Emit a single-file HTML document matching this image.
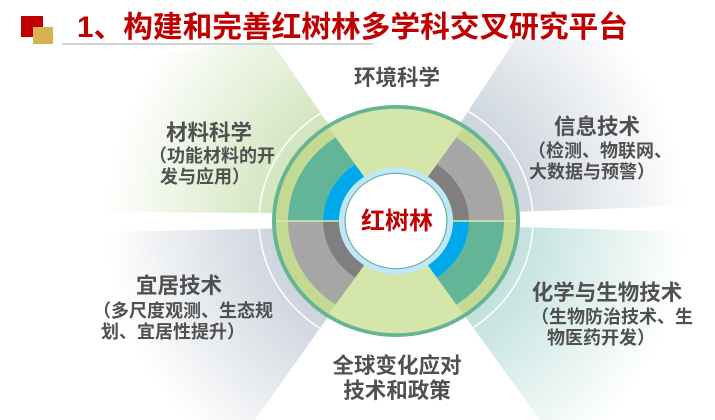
<!DOCTYPE html>
<html><head><meta charset="utf-8"><style>
html,body{margin:0;padding:0;width:715px;height:420px;overflow:hidden;background:#fff}
svg{display:block}
text{font-family:"Liberation Sans","Noto Sans CJK SC",sans-serif}
.t{fill:#505050;font-weight:bold;font-size:21.5px;text-anchor:middle}
.s{fill:#505050;font-weight:bold;font-size:18px;text-anchor:middle}
</style></head><body>
<svg width="715" height="420" viewBox="0 0 715 420">
<defs>
<radialGradient id="gg" cx="396" cy="221" r="290" gradientUnits="userSpaceOnUse">
<stop offset="0.3" stop-color="#c9e0b0"/><stop offset="1" stop-color="#c9e0b0" stop-opacity="0"/></radialGradient>
<radialGradient id="gb" cx="396" cy="221" r="290" gradientUnits="userSpaceOnUse">
<stop offset="0.3" stop-color="#c3ccd6"/><stop offset="1" stop-color="#c3ccd6" stop-opacity="0"/></radialGradient>
<radialGradient id="gt" cx="396" cy="221" r="290" gradientUnits="userSpaceOnUse">
<stop offset="0.3" stop-color="#b5dcd6"/><stop offset="1" stop-color="#b5dcd6" stop-opacity="0"/></radialGradient>
</defs>
<polygon points="396,221 270,40 100,60 100,212 396,214" fill="url(#gg)"/>
<polygon points="396,221 396,226 100,232 100,420 255,420" fill="url(#gb)"/>
<polygon points="396,221 515,40 715,40 715,205 396,216" fill="url(#gb)"/>
<polygon points="396,221 396,224 715,232 715,420 540,420" fill="url(#gt)"/>
<ellipse cx="396" cy="221" rx="137" ry="129" fill="none" stroke="#fff" stroke-width="1.5"/>
<rect x="21" y="16" width="22" height="21" fill="#c00000"/>
<rect x="33" y="27" width="20" height="17" fill="#d6b34e"/>
<rect x="62" y="43" width="311" height="2" fill="#d3d3d3"/>
<text x="77" y="37" font-size="29.7" font-weight="bold" fill="#c00000">1、构建和完善红树林多学科交叉研究平台</text>
<g transform="translate(396,221) scale(1,0.935)">
<circle r="122" fill="#d4e6a9" stroke="#66b494" stroke-width="4"/>
<path d="M-120,0 A120,120 0 0 1 -67.1,-99.5 L-60.4,-89.5 A108,108 0 0 0 -108,0Z" fill="#c4da92"/>
<path d="M-120,0 A120,120 0 0 0 -67.1,99.5 L-60.4,89.5 A108,108 0 0 1 -108,0Z" fill="#c4da92"/>
<path d="M120,0 A120,120 0 0 0 67.1,-99.5 L60.4,-89.5 A108,108 0 0 1 108,0Z" fill="#c4da92"/>
<path d="M120,0 A120,120 0 0 1 67.1,99.5 L60.4,89.5 A108,108 0 0 0 108,0Z" fill="#c4da92"/>
<path d="M-108,0 A108,108 0 0 1 -60.4,-89.5 L-40.8,-60.5 A73,73 0 0 0 -73,0Z" fill="#63b598"/>
<path d="M-73,0 A73,73 0 0 1 -40.8,-60.5 L-31.9,-47.3 A57,57 0 0 0 -57,0Z" fill="#00a9ec"/>
<path d="M-108,0 A108,108 0 0 0 -60.4,89.5 L-40.8,60.5 A73,73 0 0 1 -73,0Z" fill="#a6a6a6"/>
<path d="M-73,0 A73,73 0 0 0 -40.8,60.5 L-31.9,47.3 A57,57 0 0 1 -57,0Z" fill="#7f7f7f"/>
<path d="M108,0 A108,108 0 0 0 60.4,-89.5 L40.8,-60.5 A73,73 0 0 1 73,0Z" fill="#a6a6a6"/>
<path d="M73,0 A73,73 0 0 0 40.8,-60.5 L31.9,-47.3 A57,57 0 0 1 57,0Z" fill="#7f7f7f"/>
<path d="M108,0 A108,108 0 0 1 60.4,89.5 L40.8,60.5 A73,73 0 0 0 73,0Z" fill="#63b598"/>
<path d="M73,0 A73,73 0 0 1 40.8,60.5 L31.9,47.3 A57,57 0 0 0 57,0Z" fill="#00a9ec"/>
<line x1="-120" y1="0" x2="120" y2="0" stroke="#d8e8b0" stroke-width="1.5"/>
<circle r="57" fill="#bfe6fa"/>
<circle r="51" fill="#fff" stroke="#66b494" stroke-width="1.2"/>
</g>
<text x="397" y="229" font-size="24" font-weight="bold" fill="#c00000" text-anchor="middle">红树林</text>
<text class="t" x="397" y="85">环境科学</text>
<text class="t" x="209" y="140">材料科学</text>
<text class="s" x="212" y="162">（功能材料的开</text>
<text class="s" x="205" y="183">发与应用）</text>
<text class="t" x="597" y="134">信息技术</text>
<text class="s" x="600" y="157">（检测、物联网、</text>
<text class="s" x="592" y="178">大数据与预警）</text>
<text class="t" x="607" y="300">化学与生物技术</text>
<text class="s" x="612" y="323">（生物防治技术、生</text>
<text class="s" x="601" y="344">物医药开发）</text>
<text class="t" x="179" y="293">宜居技术</text>
<text class="s" x="183" y="317">（多尺度观测、生态规</text>
<text class="s" x="173" y="338">划、宜居性提升）</text>
<text class="t" x="397" y="373">全球变化应对</text>
<text class="t" x="397" y="398">技术和政策</text>
</svg>
</body></html>
